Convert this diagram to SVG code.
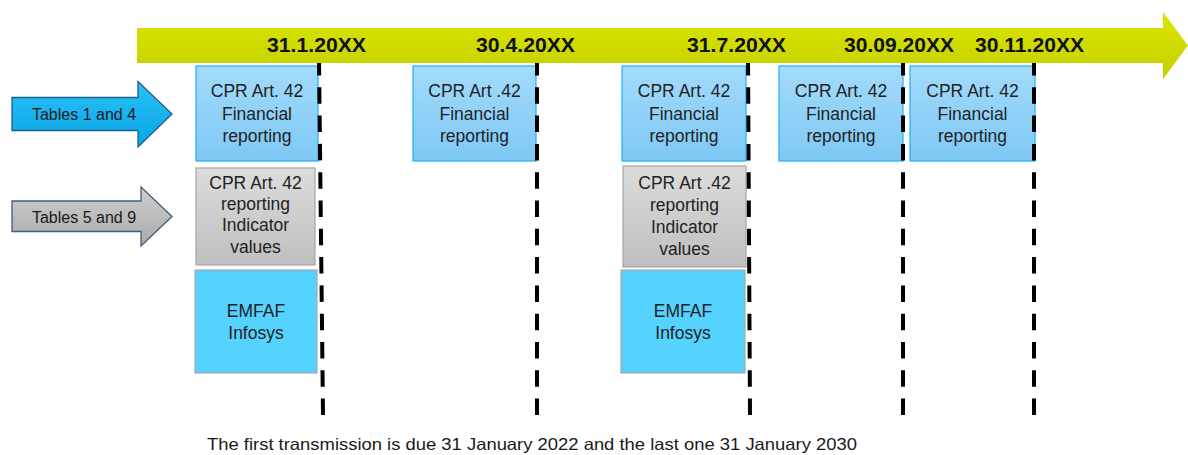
<svg xmlns="http://www.w3.org/2000/svg" width="1188" height="455" viewBox="0 0 1188 455">
<defs>
<linearGradient id="gArrow" x1="0" y1="0" x2="0" y2="1"><stop offset="0" stop-color="#dbe600"/><stop offset="1" stop-color="#c3cf00"/></linearGradient>
<linearGradient id="gFin" x1="0" y1="0" x2="0" y2="1"><stop offset="0" stop-color="#a3dbfb"/><stop offset="1" stop-color="#7ec8f5"/></linearGradient>
<linearGradient id="gGrey" x1="0" y1="0" x2="0" y2="1"><stop offset="0" stop-color="#dcdcdc"/><stop offset="1" stop-color="#bfbfbf"/></linearGradient>
<linearGradient id="gBlueArr" x1="0" y1="0" x2="0" y2="1"><stop offset="0" stop-color="#2cc0f6"/><stop offset="1" stop-color="#06a6e6"/></linearGradient>
<linearGradient id="gGreyArr" x1="0" y1="0" x2="0" y2="1"><stop offset="0" stop-color="#cfcfcf"/><stop offset="1" stop-color="#a9a9a9"/></linearGradient>
</defs>
<style>
.fin{fill:url(#gFin);stroke:#1fb1ee;stroke-width:1.2}
.grey{fill:url(#gGrey);stroke:#a6a6a6;stroke-width:1.2}
.emf{fill:#55d3fe;stroke:#a8a8a8;stroke-width:1.2}
.t{font-family:"Liberation Sans",Arial,sans-serif;font-size:17.5px;fill:#222;text-anchor:middle}
.d{font-family:"Liberation Sans",Arial,sans-serif;font-size:21px;font-weight:bold;fill:#111}
.lbl{font-family:"Liberation Sans",Arial,sans-serif;font-size:16px;fill:#1a1a1a;text-anchor:middle}
.dash{stroke:#000;stroke-width:4;stroke-dasharray:16.5 11.8;fill:none}
</style>

<g id="box-fin-1"><rect class="fin" x="196" y="66" width="122" height="95"/><text class="t" x="257" y="97">CPR Art. 42</text><text class="t" x="257" y="119.5">Financial</text><text class="t" x="257" y="142">reporting</text></g>
<g id="box-fin-2"><rect class="fin" x="413" y="66" width="123" height="95"/><text class="t" x="474.5" y="97">CPR Art .42</text><text class="t" x="474.5" y="119.5">Financial</text><text class="t" x="474.5" y="142">reporting</text></g>
<g id="box-fin-3"><rect class="fin" x="622" y="66" width="124" height="95"/><text class="t" x="684" y="97">CPR Art. 42</text><text class="t" x="684" y="119.5">Financial</text><text class="t" x="684" y="142">reporting</text></g>
<g id="box-fin-4"><rect class="fin" x="779" y="66" width="124" height="95"/><text class="t" x="841" y="97">CPR Art. 42</text><text class="t" x="841" y="119.5">Financial</text><text class="t" x="841" y="142">reporting</text></g>
<g id="box-fin-5"><rect class="fin" x="910" y="66" width="125" height="95"/><text class="t" x="972.5" y="97">CPR Art. 42</text><text class="t" x="972.5" y="119.5">Financial</text><text class="t" x="972.5" y="142">reporting</text></g>

<g id="box-ind-1"><rect class="grey" x="196" y="168" width="119" height="97"/><text class="t" x="255.5" y="188.5">CPR Art. 42</text><text class="t" x="255.5" y="210">reporting</text><text class="t" x="255.5" y="231">Indicator</text><text class="t" x="255.5" y="252.5">values</text></g>
<g id="box-ind-2"><rect class="grey" x="623" y="166" width="123" height="101"/><text class="t" x="684.5" y="189">CPR Art .42</text><text class="t" x="684.5" y="211">reporting</text><text class="t" x="684.5" y="233">Indicator</text><text class="t" x="684.5" y="255">values</text></g>

<g id="box-emf-1"><rect class="emf" x="195" y="270" width="122" height="103"/><text class="t" x="256" y="317">EMFAF</text><text class="t" x="256" y="339">Infosys</text></g>
<g id="box-emf-2"><rect class="emf" x="621" y="270" width="124" height="103"/><text class="t" x="683" y="317">EMFAF</text><text class="t" x="683" y="339">Infosys</text></g>

<g id="arrow-tables-1-4"><path d="M12 97.5 H138 V81.5 L172 114 L138 147 V130.5 H12 Z" fill="url(#gBlueArr)" stroke="#1f5e8c" stroke-width="1.3"/><text class="lbl" x="84" y="119.5">Tables 1 and 4</text></g>
<g id="arrow-tables-5-9"><path d="M12 201 H141 V187 L172 216.5 L141 246 V231.5 H12 Z" fill="url(#gGreyArr)" stroke="#3f5d7d" stroke-width="1.3"/><text class="lbl" x="84" y="222.5">Tables 5 and 9</text></g>

<g id="connectors">
<line class="dash" x1="319" y1="59" x2="323" y2="415"/>
<line class="dash" x1="537" y1="59" x2="537" y2="415"/>
<line class="dash" x1="748" y1="59" x2="750" y2="415"/>
<line class="dash" x1="903" y1="59" x2="903" y2="415"/>
<line class="dash" x1="1034" y1="59" x2="1034" y2="415"/>
</g>

<g id="timeline">
<path d="M137 28 H1163 V12 L1188 45.5 L1163 79 V63 H137 Z" fill="url(#gArrow)"/>
<text class="d" x="267" y="51.5" textLength="99" lengthAdjust="spacingAndGlyphs">31.1.20XX</text>
<text class="d" x="476" y="51.5" textLength="99" lengthAdjust="spacingAndGlyphs">30.4.20XX</text>
<text class="d" x="687" y="51.5" textLength="99" lengthAdjust="spacingAndGlyphs">31.7.20XX</text>
<text class="d" x="844" y="51.5" textLength="110" lengthAdjust="spacingAndGlyphs">30.09.20XX</text>
<text class="d" x="975" y="51.5" textLength="109" lengthAdjust="spacingAndGlyphs">30.11.20XX</text>
</g>

<g id="footer"><text x="207" y="450" font-family="Liberation Sans, Arial, sans-serif" font-size="16.5" fill="#1a1a1a" textLength="650" lengthAdjust="spacingAndGlyphs">The first transmission is due 31 January 2022 and the last one 31 January 2030</text></g>
</svg>
